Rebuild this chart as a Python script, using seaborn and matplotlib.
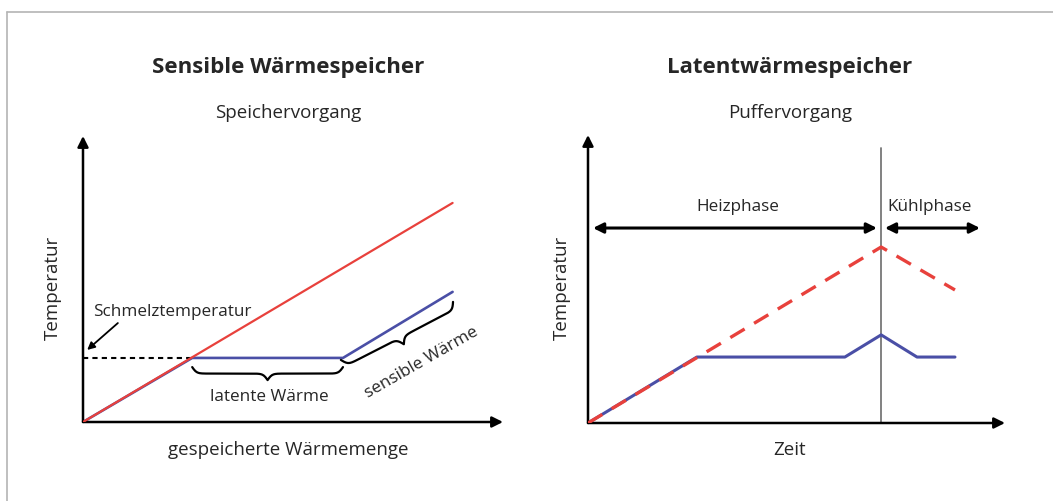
import numpy as np
import pandas as pd
import matplotlib
matplotlib.use("Agg")
import matplotlib.pyplot as plt
import seaborn as sns
from matplotlib.lines import Line2D

# ── Data (arbitrary units, axis runs 0..10 in both directions) ────────────────

# left panel: sensible vs. latent storage
SENS_X = [0.0, 8.8]
SENS_Y = [0.0, 7.66]
LAT_X = [0.0, 2.6, 6.19, 8.8]
LAT_Y = [0.0, 2.24, 2.24, 4.55]
MELT_T = 2.24

# right panel: buffering
BUF_SENS_X = [0.0, 7.03, 8.8]
BUF_SENS_Y = [0.0, 6.11, 4.62]
BUF_LAT_X = [0.0, 2.61, 6.16, 7.03, 7.89, 8.8]
BUF_LAT_Y = [0.0, 2.29, 2.29, 3.06, 2.29, 2.29]
PHASE_SPLIT = 7.03
PHASE_NAMES = ["Heizphase", "Kühlphase"]

TITLES = ["Sensible Wärmespeicher", "Latentwärmespeicher"]
SUBTITLES = ["Speichervorgang", "Puffervorgang"]
XLABELS = ["gespeicherte Wärmemenge", "Zeit"]
YLABEL = "Temperatur"

RED = "#e8413c"
BLUE = "#4a4fa6"
W, H = 1053, 501
FS_LABEL = 13.5
FS_NOTE = 12.3

sns.set_theme(style="white")
plt.rcParams["font.family"] = ["Open Sans", "DejaVu Sans"]

fig = plt.figure(figsize=(W / 100, H / 100), dpi=100)
fig.patch.set_facecolor("white")

# page frame (top + left rule)
fig.add_artist(Line2D([7 / W, 1], [1 - 12 / H, 1 - 12 / H], color="#b4b4b4", lw=1.2))
fig.add_artist(Line2D([7 / W, 7 / W], [0, 1 - 12 / H], color="#b4b4b4", lw=1.2))


def px_axes(x0, x1, y_top, y_bot):
    return fig.add_axes([x0 / W, 1 - y_bot / H, (x1 - x0) / W, (y_bot - y_top) / H])


def setup(ax):
    ax.set_xlim(0, 10)
    ax.set_ylim(0, 10)
    ax.axis("off")
    kw = dict(arrowstyle="-|>", color="black", lw=1.8, mutation_scale=16,
              shrinkA=0, shrinkB=0)
    ax.annotate("", xy=(10, 0), xytext=(0, 0), arrowprops=kw, annotation_clip=False)
    ax.annotate("", xy=(0, 10), xytext=(0, 0), arrowprops=kw, annotation_clip=False)


def brace(ax, p0, p1, h=13, b=0.45, **kw):
    """curly brace between p0 and p1 (data), tip to the right of p0->p1"""
    a = ax.transData.transform(p0)
    c = ax.transData.transform(p1)
    d = c - a
    L = np.hypot(*d)
    u = d / L
    n = np.array([u[1], -u[0]])
    half = L / 2
    t = np.linspace(0, half, 100)
    q = 1 / (1 + np.exp(-b * t)) + 1 / (1 + np.exp(-b * (t - half)))
    q = (q - q[0]) / (q[-1] - q[0])
    tt = np.concatenate([t, L - t[::-1]])
    qq = np.concatenate([q, q[::-1]])
    pts = a + np.outer(tt, u) + np.outer(qq * h, n)
    pts = ax.transData.inverted().transform(pts)
    ax.plot(pts[:, 0], pts[:, 1], color="black", lw=1.6, clip_on=False, **kw)


# ── Left panel ────────────────────────────────────────────────────────────────
ax1 = px_axes(83, 503, 136, 422)
setup(ax1)
sns.lineplot(x=LAT_X, y=LAT_Y, ax=ax1, color=BLUE, lw=1.9, sort=False, zorder=2)
sns.lineplot(x=SENS_X, y=SENS_Y, ax=ax1, color=RED, lw=1.6, sort=False, zorder=3)
ax1.plot([0, LAT_X[1]], [MELT_T, MELT_T], color="black", lw=1.5, ls=(0, (2.5, 2)))
ax1.annotate("", xy=(0.1, 2.52), xytext=(0.83, 3.46),
             arrowprops=dict(arrowstyle="-|>", color="black", lw=1.3,
                             mutation_scale=11, shrinkA=0, shrinkB=0))
ax1.text(0.24, 3.85, "Schmelztemperatur", fontsize=FS_NOTE, va="center", ha="left")
brace(ax1, (LAT_X[1], 1.92), (LAT_X[2], 1.92), h=13)
ax1.text(4.43, 0.87, "latente Wärme", fontsize=FS_NOTE, ha="center", va="center")
brace(ax1, (6.14, 2.17), (8.81, 4.2), h=15)
ax1.text(8.05, 2.08, "sensible Wärme", fontsize=FS_NOTE, ha="center", va="center",
         rotation=29.8, rotation_mode="anchor")

# ── Right panel ───────────────────────────────────────────────────────────────
ax2 = px_axes(588, 1005, 135, 423)
setup(ax2)
ax2.plot([PHASE_SPLIT, PHASE_SPLIT], [0, 9.55], color="#777777", lw=1.3)
sns.lineplot(x=BUF_LAT_X, y=BUF_LAT_Y, ax=ax2, color=BLUE, lw=2.2, sort=False, zorder=2)
sns.lineplot(x=BUF_SENS_X, y=BUF_SENS_Y, ax=ax2, color=RED, lw=2.4, sort=False, zorder=3)
ax2.lines[-1].set_linestyle((0, (5, 3.3)))
dkw = dict(arrowstyle="<|-|>", color="black", lw=2.2, mutation_scale=15,
           shrinkA=0, shrinkB=0)
ax2.annotate("", xy=(0.12, 6.77), xytext=(6.93, 6.77), arrowprops=dkw)
ax2.annotate("", xy=(7.12, 6.77), xytext=(9.4, 6.77), arrowprops=dkw,
             annotation_clip=False)
ax2.text(3.6, 7.5, PHASE_NAMES[0], fontsize=FS_NOTE, ha="center", va="center")
ax2.text(8.2, 7.5, PHASE_NAMES[1], fontsize=FS_NOTE, ha="center", va="center")

# ── Titles and labels ─────────────────────────────────────────────────────────
for cx, ylx, i in [(288, 53, 0), (790, 562, 1)]:
    fig.text(cx / W, 1 - 68 / H, TITLES[i], fontsize=16, fontweight="bold",
             ha="center", va="center")
    fig.text(cx / W, 1 - 113 / H, SUBTITLES[i], fontsize=FS_LABEL, ha="center", va="center")
    fig.text(cx / W, 1 - 450 / H, XLABELS[i], fontsize=FS_LABEL, ha="center", va="center")
    fig.text(ylx / W, 1 - 288 / H, YLABEL, fontsize=FS_LABEL, ha="center", va="center",
             rotation=90)

fig.savefig("out.png", dpi=100, facecolor="white")
